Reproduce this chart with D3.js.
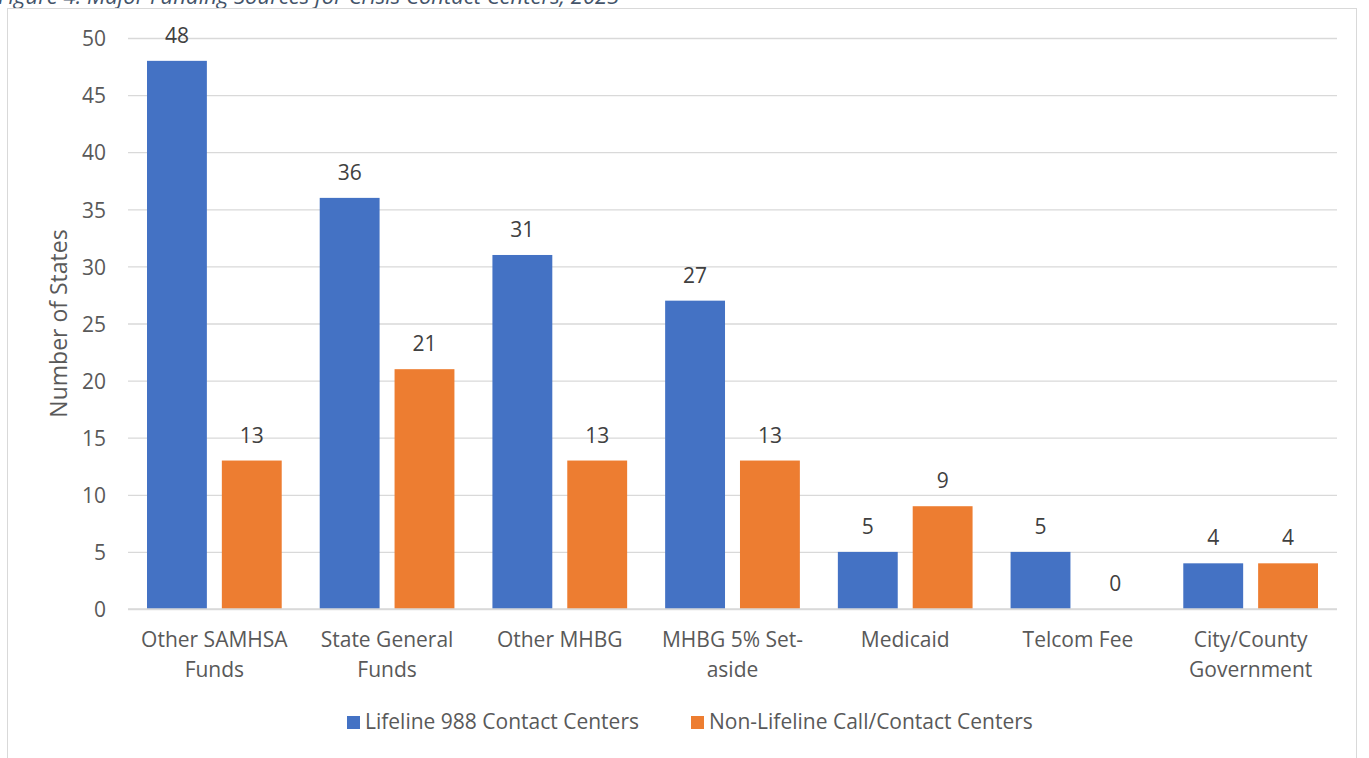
<!DOCTYPE html>
<html><head><meta charset="utf-8">
<script src="https://cdn.jsdelivr.net/npm/d3@7/dist/d3.min.js"></script>
<style>body{margin:0;background:#fff;} svg{display:block;font-family:"Open Sans", sans-serif;}</style>
</head><body>
<svg id="c" width="1369" height="758"></svg>
<script>
const categories = [["Other SAMHSA","Funds"],["State General","Funds"],["Other MHBG"],["MHBG 5% Set-","aside"],["Medicaid"],["Telcom Fee"],["City/County","Government"]];
const seriesNames = ["Lifeline 988 Contact Centers","Non-Lifeline Call/Contact Centers"];
const lifeline = [48,36,31,27,5,5,4];
const nonLifeline = [13,21,13,13,9,0,4];
const yTicks = [0,5,10,15,20,25,30,35,40,45,50];
const colors = ["#4472C4","#ED7D31"];
const title = "Figure 4. Major Funding Sources for Crisis Contact Centers, 2023";

const svg = d3.select("#c");
const plot = {left:128, right:1337, top:38, bottom:609};
const fs = 21;

svg.append("text").attr("x",-2).attr("y",4).attr("font-style","italic").attr("font-size",22)
  .attr("fill","#44546A").text(title);
svg.append("rect").attr("x",7.5).attr("y",8.5).attr("width",1349).attr("height",800)
  .attr("fill","none").attr("stroke","#d9d9d9");

const x0 = d3.scaleBand().domain(d3.range(categories.length)).range([plot.left,plot.right]).paddingInner(0.22).paddingOuter(0.11);
const x1 = d3.scaleBand().domain([0,1]).range([0,x0.bandwidth()]).paddingInner(0.2);
const y = d3.scaleLinear().domain([0,50]).range([plot.bottom,plot.top]);

const grid = svg.append("g").attr("transform",`translate(${plot.left},0)`)
  .call(d3.axisLeft(y).tickValues(yTicks).tickSize(-(plot.right-plot.left)).tickFormat(""));
grid.select(".domain").remove();
grid.selectAll("line").attr("stroke","#d9d9d9").attr("stroke-width",1.3);

const yAx = svg.append("g").attr("transform",`translate(${plot.left-22},1)`)
  .call(d3.axisLeft(y).tickValues(yTicks).tickSize(0).tickPadding(0));
yAx.select(".domain").remove();
yAx.selectAll("text").attr("font-size",fs).attr("fill","#595959").attr("font-family","Open Sans");

svg.append("text").attr("transform",`translate(67,${(plot.top+plot.bottom)/2}) rotate(-90)`)
  .attr("text-anchor","middle").attr("font-size",23).attr("fill","#595959").text("Number of States");

const series = [lifeline, nonLifeline];
const g = svg.append("g");
series.forEach((vals,si)=>{
  g.selectAll(null).data(vals).join("rect")
    .attr("x",(d,i)=>x0(i)+x1(si)).attr("width",x1.bandwidth())
    .attr("y",d=>y(d)).attr("height",d=>y(0)-y(d)).attr("fill",colors[si]);
  g.selectAll(null).data(vals).join("text")
    .attr("x",(d,i)=>x0(i)+x1(si)+x1.bandwidth()/2).attr("y",d=>y(d)-18)
    .attr("text-anchor","middle").attr("font-size",fs).attr("fill","#404040").text(d=>d);
});

svg.append("line").attr("x1",plot.left).attr("x2",plot.right).attr("y1",y(0)).attr("y2",y(0)).attr("stroke","#d9d9d9").attr("stroke-width",1.5);

const xl = svg.append("g");
categories.forEach((lines,i)=>{
  const t = xl.append("text").attr("text-anchor","middle").attr("font-size",fs).attr("fill","#595959");
  lines.forEach((ln,j)=>t.append("tspan").attr("x",x0(i)+x0.bandwidth()/2).attr("y",647+j*30).text(ln));
});

const legX = [347, 691];
seriesNames.forEach((n,i)=>{
  svg.append("rect").attr("x",legX[i]).attr("y",716).attr("width",13).attr("height",13).attr("fill",colors[i]);
  svg.append("text").attr("x",legX[i]+18).attr("y",729).attr("font-size",fs).attr("fill","#595959").text(n);
});
</script>
</body></html>
